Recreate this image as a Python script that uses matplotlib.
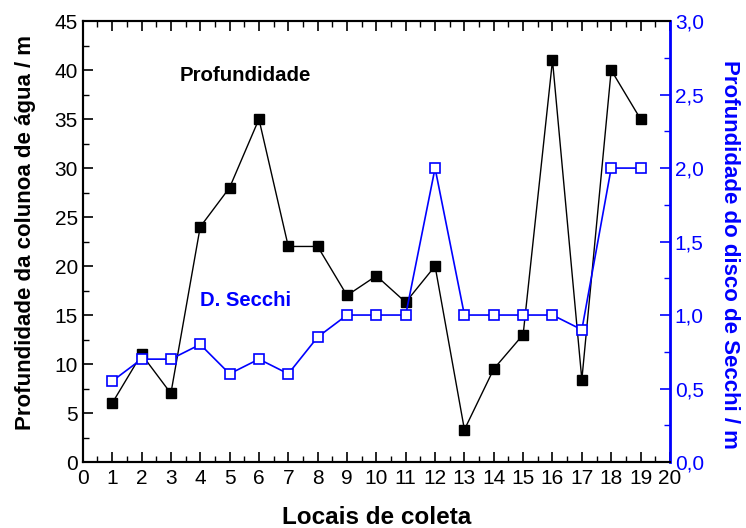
import numpy as np
import matplotlib.pyplot as plt
from matplotlib.ticker import MultipleLocator, FuncFormatter

plt.rcParams['font.family'] = ['Liberation Sans', 'DejaVu Sans']

# data
locais = [1, 2, 3, 4, 5, 6, 7, 8, 9, 10, 11, 12, 13, 14, 15, 16, 17, 18, 19]
profundidade = [6, 11, 7, 24, 28, 35, 22, 22, 17, 19, 16.3, 20, 3.3, 9.5, 13, 41, 8.4, 40, 35]
secchi = [0.55, 0.7, 0.7, 0.8, 0.6, 0.7, 0.6, 0.85, 1.0, 1.0, 1.0, 2.0, 1.0, 1.0, 1.0, 1.0, 0.9, 2.0, 2.0]

fig = plt.figure(figsize=(7.46, 5.28), dpi=100)
ax = fig.add_axes([0.111, 0.125, 0.787, 0.835])
ax2 = ax.twinx()

ax.plot(locais, profundidade, color='black', lw=1, marker='s', ms=7,
        markerfacecolor='black', markeredgecolor='black')
ax2.plot(locais, secchi, color='blue', lw=1.2, marker='s', ms=6.5,
         markerfacecolor='white', markeredgecolor='blue', markeredgewidth=1.2)

ax.set_xlim(0, 20)
ax.set_ylim(0, 45)
ax2.set_ylim(0, 3)

ax.xaxis.set_major_locator(MultipleLocator(1))
ax.xaxis.set_minor_locator(MultipleLocator(0.5))
ax.yaxis.set_major_locator(MultipleLocator(5))
ax.yaxis.set_minor_locator(MultipleLocator(2.5))
ax2.yaxis.set_major_locator(MultipleLocator(0.5))
ax2.yaxis.set_minor_locator(MultipleLocator(0.25))
ax2.yaxis.set_major_formatter(FuncFormatter(lambda v, p: ('%.1f' % v).replace('.', ',')))

ax.tick_params(axis='both', which='major', direction='in', length=7, width=1.2,
               labelsize=15, top=True)
ax.tick_params(axis='both', which='minor', direction='in', length=4, width=1, top=True)
ax.tick_params(axis='x', pad=5)
ax2.tick_params(axis='y', which='major', direction='in', length=7, width=1.2,
                labelsize=15, colors='blue')
ax2.tick_params(axis='y', which='minor', direction='in', length=4, width=1, colors='blue')

for s in ['left', 'bottom', 'top']:
    ax.spines[s].set_linewidth(1.5)
ax2.spines['right'].set_color('blue')
ax2.spines['right'].set_linewidth(2)
for s in ['left', 'bottom', 'top']:
    ax2.spines[s].set_linewidth(1.5)

ax.set_xlabel('Locais de coleta', fontsize=17.5, fontweight='bold', labelpad=13)
ax.set_ylabel('Profundidade da colunoa de água / m', fontsize=16, fontweight='bold')
ax.yaxis.set_label_coords(-0.079, 0.52)
ax2.set_ylabel('Profundidade do disco de Secchi / m', fontsize=16, fontweight='bold',
               color='blue', rotation=270)
ax2.yaxis.set_label_coords(1.12, 0.47)

ax.text(5.52, 39.5, 'Profundidade', fontsize=14.7, fontweight='bold', color='black', ha='center', va='center')
ax.text(5.55, 16.5, 'D. Secchi', fontsize=14.6, fontweight='bold', color='blue', ha='center', va='center')

fig.savefig('out.png', dpi=100)
